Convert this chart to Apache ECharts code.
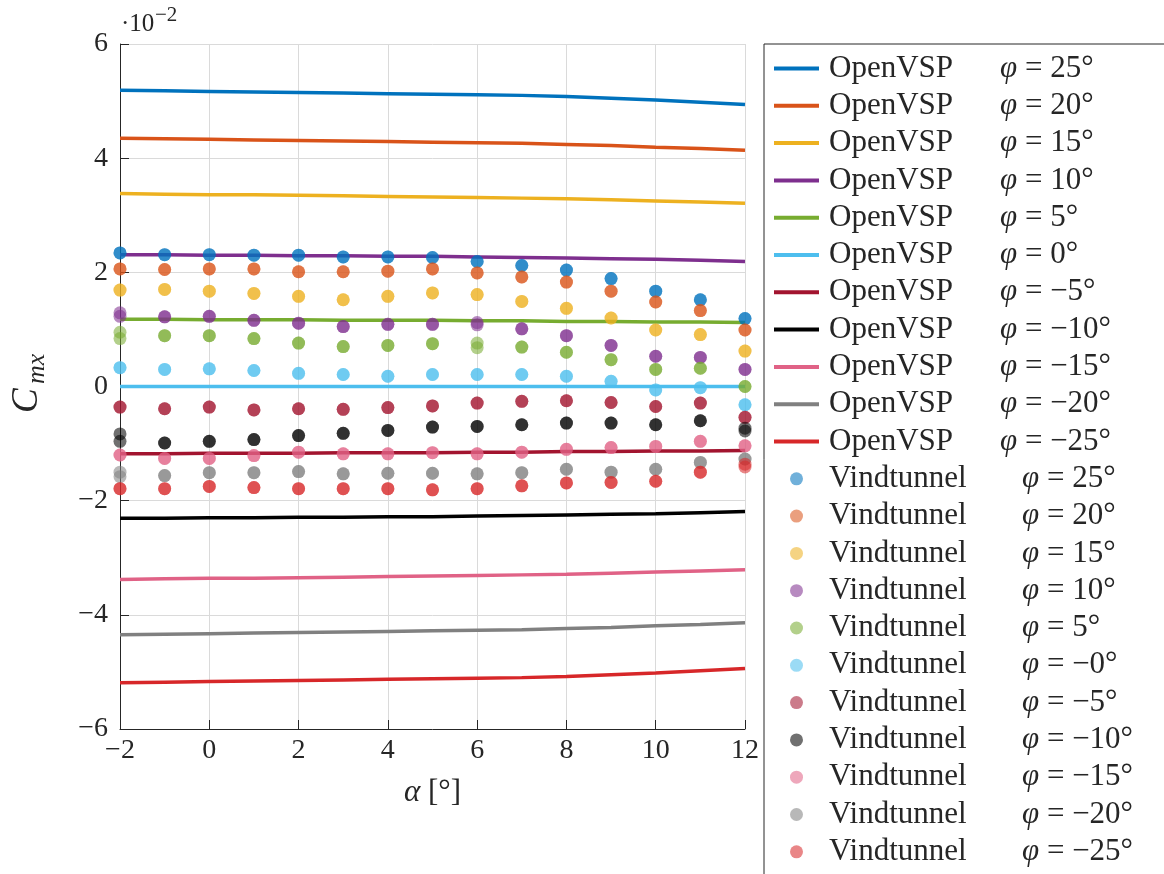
<!DOCTYPE html>
<html>
<head>
<meta charset="utf-8">
<script src="https://cdn.jsdelivr.net/npm/echarts@6/dist/echarts.min.js"></script>
<style>
  html, body { margin: 0; padding: 0; background: #ffffff; }
  #chart { width: 1164px; height: 874px; }
</style>
</head>
<body>
<div id="chart"></div>
<script>
// Angle of attack [deg]
const alpha = [-2, -1, 0, 1, 2, 3, 4, 5, 6, 7, 8, 9, 10, 11, 12];

// Roll moment coefficient Cmx (x 10^-2), OpenVSP, per sideslip angle phi
const vsp25  = [5.19, 5.18, 5.17, 5.16, 5.15, 5.14, 5.13, 5.12, 5.11, 5.10, 5.08, 5.05, 5.02, 4.98, 4.94];
const vsp20  = [4.35, 4.34, 4.33, 4.32, 4.31, 4.30, 4.29, 4.28, 4.27, 4.26, 4.24, 4.22, 4.19, 4.17, 4.14];
const vsp15  = [3.38, 3.37, 3.36, 3.36, 3.35, 3.34, 3.33, 3.32, 3.31, 3.30, 3.29, 3.27, 3.25, 3.23, 3.21];
const vsp10  = [2.31, 2.31, 2.30, 2.30, 2.29, 2.29, 2.28, 2.28, 2.27, 2.26, 2.25, 2.24, 2.23, 2.21, 2.19];
const vsp5   = [1.18, 1.18, 1.17, 1.17, 1.17, 1.16, 1.16, 1.16, 1.15, 1.15, 1.14, 1.14, 1.13, 1.13, 1.12];
const vsp0   = [0, 0, 0, 0, 0, 0, 0, 0, 0, 0, 0, 0, 0, 0, 0];
const vspM5  = [-1.18, -1.18, -1.17, -1.17, -1.17, -1.16, -1.16, -1.16, -1.15, -1.15, -1.14, -1.14, -1.13, -1.13, -1.12];
const vspM10 = [-2.31, -2.31, -2.30, -2.30, -2.29, -2.29, -2.28, -2.28, -2.27, -2.26, -2.25, -2.24, -2.23, -2.21, -2.19];
const vspM15 = [-3.38, -3.37, -3.36, -3.36, -3.35, -3.34, -3.33, -3.32, -3.31, -3.30, -3.29, -3.27, -3.25, -3.23, -3.21];
const vspM20 = [-4.35, -4.34, -4.33, -4.32, -4.31, -4.30, -4.29, -4.28, -4.27, -4.26, -4.24, -4.22, -4.19, -4.17, -4.14];
const vspM25 = [-5.19, -5.18, -5.17, -5.16, -5.15, -5.14, -5.13, -5.12, -5.11, -5.10, -5.08, -5.05, -5.02, -4.98, -4.94];

// Wind tunnel measurements, two runs per phi (x 10^-2)
const wt25a  = [2.34, 2.31, 2.31, 2.30, 2.30, 2.27, 2.27, 2.26, 2.19, 2.12, 2.04, 1.89, 1.67, 1.52, 1.19];
const wt25b  = [2.34, 2.31, 2.31, 2.30, 2.30, 2.27, 2.27, 2.26, 2.19, 2.12, 2.04, 1.89, 1.67, 1.52, 1.19];
const wt20a  = [2.06, 2.05, 2.06, 2.06, 2.01, 2.01, 2.02, 2.06, 1.99, 1.92, 1.83, 1.67, 1.48, 1.33, 0.99];
const wt20b  = [2.06, 2.05, 2.06, 2.06, 2.01, 2.01, 2.02, 2.06, 1.99, 1.92, 1.83, 1.67, 1.48, 1.33, 0.99];
const wt15a  = [1.69, 1.70, 1.67, 1.63, 1.58, 1.52, 1.58, 1.64, 1.61, 1.49, 1.37, 1.20, 0.99, 0.91, 0.62];
const wt15b  = [1.69, 1.70, 1.67, 1.63, 1.58, 1.52, 1.58, 1.64, 1.61, 1.49, 1.37, 1.20, 0.99, 0.91, 0.62];
const wt10a  = [1.29, 1.22, 1.23, 1.16, 1.11, 1.05, 1.09, 1.09, 1.12, 1.01, 0.89, 0.72, 0.53, 0.51, 0.30];
const wt10b  = [1.23, 1.22, 1.23, 1.16, 1.11, 1.05, 1.09, 1.09, 1.08, 1.01, 0.89, 0.72, 0.53, 0.51, 0.30];
const wt5a   = [0.95, 0.89, 0.89, 0.84, 0.76, 0.70, 0.72, 0.75, 0.76, 0.69, 0.60, 0.47, 0.30, 0.32, 0.00];
const wt5b   = [0.84, 0.89, 0.89, 0.84, 0.76, 0.70, 0.72, 0.75, 0.68, 0.69, 0.60, 0.47, 0.30, 0.32, 0.00];
const wt0a   = [0.33, 0.30, 0.31, 0.28, 0.23, 0.21, 0.18, 0.21, 0.21, 0.21, 0.18, 0.09, -0.06, -0.02, -0.32];
const wt0b   = [0.33, 0.30, 0.31, 0.28, 0.23, 0.21, 0.18, 0.21, 0.21, 0.21, 0.18, 0.09, -0.06, -0.02, -0.32];
const wtM5a  = [-0.36, -0.39, -0.36, -0.41, -0.39, -0.40, -0.37, -0.34, -0.29, -0.26, -0.25, -0.28, -0.35, -0.29, -0.54];
const wtM5b  = [-0.36, -0.39, -0.36, -0.41, -0.39, -0.40, -0.37, -0.34, -0.29, -0.26, -0.25, -0.28, -0.35, -0.29, -0.54];
const wtM10a = [-0.83, -0.99, -0.96, -0.93, -0.86, -0.82, -0.77, -0.71, -0.70, -0.67, -0.64, -0.64, -0.67, -0.60, -0.73];
const wtM10b = [-0.96, -0.99, -0.96, -0.93, -0.86, -0.82, -0.77, -0.71, -0.70, -0.67, -0.64, -0.64, -0.67, -0.60, -0.78];
const wtM15a = [-1.20, -1.26, -1.26, -1.21, -1.15, -1.18, -1.18, -1.16, -1.18, -1.15, -1.10, -1.07, -1.05, -0.96, -1.04];
const wtM15b = [-1.20, -1.26, -1.26, -1.21, -1.15, -1.18, -1.18, -1.16, -1.18, -1.15, -1.10, -1.07, -1.05, -0.96, -1.04];
const wtM20a = [-1.50, -1.56, -1.51, -1.51, -1.49, -1.53, -1.52, -1.52, -1.53, -1.51, -1.45, -1.50, -1.45, -1.33, -1.27];
const wtM20b = [-1.58, -1.56, -1.51, -1.51, -1.49, -1.53, -1.52, -1.52, -1.53, -1.51, -1.45, -1.50, -1.45, -1.33, -1.27];
const wtM25a = [-1.79, -1.79, -1.75, -1.77, -1.79, -1.79, -1.79, -1.81, -1.79, -1.74, -1.69, -1.68, -1.66, -1.50, -1.36];
const wtM25b = [-1.79, -1.79, -1.75, -1.77, -1.79, -1.79, -1.79, -1.81, -1.79, -1.74, -1.69, -1.68, -1.66, -1.50, -1.41];

const phiVsp = ['25°', '20°', '15°', '10°', '5°', '0°', '−5°', '−10°', '−15°', '−20°', '−25°'];
const phiWt  = ['25°', '20°', '15°', '10°', '5°', '−0°', '−5°', '−10°', '−15°', '−20°', '−25°'];

const palette = [
  [0, 114, 189], [217, 83, 25], [237, 177, 32], [126, 47, 142], [119, 172, 48],
  [77, 190, 238], [162, 20, 47], [0, 0, 0], [224, 98, 134], [128, 128, 128], [215, 39, 41]
];

const vspSets = [vsp25, vsp20, vsp15, vsp10, vsp5, vsp0, vspM5, vspM10, vspM15, vspM20, vspM25];
const wtRunsA = [wt25a, wt20a, wt15a, wt10a, wt5a, wt0a, wtM5a, wtM10a, wtM15a, wtM20a, wtM25a];
const wtRunsB = [wt25b, wt20b, wt15b, wt10b, wt5b, wt0b, wtM5b, wtM10b, wtM15b, wtM20b, wtM25b];

const FONT = '"Liberation Serif", "DejaVu Serif", serif';
const INK = '#262626';
const LINE_ICON = 'path://M0,0H45V4H0Z';
const rgb = (c, a) => a === undefined ? `rgb(${c.join(',')})` : `rgba(${c.join(',')},${a})`;
const minus = v => (v < 0 ? '\u2212' + Math.abs(v) : String(v));

const series = [];
const legendData = [];

vspSets.forEach((vals, i) => {
  const name = 'OpenVSP φ = ' + phiVsp[i];
  legendData.push({ name, icon: LINE_ICON });
  series.push({
    name, type: 'line', symbol: 'none', z: 2,
    data: alpha.map((a, k) => [a, vals[k]]),
    lineStyle: { color: rgb(palette[i]), width: 3.5 },
    itemStyle: { color: rgb(palette[i]) },
    emphasis: { disabled: true }
  });
});

wtRunsA.forEach((runA, i) => {
  const name = 'Vindtunnel φ = ' + phiWt[i];
  legendData.push({ name, icon: 'circle' });
  const runB = wtRunsB[i];
  series.push({
    name, type: 'scatter', symbol: 'circle', symbolSize: 13, z: 3,
    data: alpha.map((a, k) => [a, runA[k]]).concat(alpha.map((a, k) => [a, runB[k]])),
    itemStyle: { color: rgb(palette[i], 0.7) },
    emphasis: { disabled: true }
  });
});

const chart = echarts.init(document.getElementById('chart'), null, { renderer: 'canvas' });

chart.setOption({
  animation: false,
  backgroundColor: '#ffffff',
  textStyle: { fontFamily: FONT, color: INK },
  grid: { left: 120, top: 44, right: 419, bottom: 145, containLabel: false },
  xAxis: {
    type: 'value', min: -2, max: 12, interval: 2,
    name: '{a|α}{b| [°]}', nameLocation: 'middle', nameGap: 48,
    nameTextStyle: {
      rich: {
        a: { fontFamily: FONT, fontSize: 31, fontStyle: 'italic', color: INK },
        b: { fontFamily: FONT, fontSize: 31, color: INK }
      }
    },
    axisLine: { show: true, onZero: false, lineStyle: { color: INK, width: 1 } },
    axisTick: { show: true, inside: true, length: 9, lineStyle: { color: INK } },
    axisLabel: { fontFamily: FONT, fontSize: 28, color: INK, margin: 8, formatter: minus },
    splitLine: { show: true, lineStyle: { color: '#dadada', width: 1 } }
  },
  yAxis: {
    type: 'value', min: -6, max: 6, interval: 2,
    axisLine: { show: true, onZero: false, lineStyle: { color: INK, width: 1 } },
    axisTick: { show: true, inside: true, length: 9, lineStyle: { color: INK } },
    axisLabel: { fontFamily: FONT, fontSize: 28, color: INK, margin: 12, formatter: minus },
    splitLine: { show: true, lineStyle: { color: '#dadada', width: 1 } }
  },
  legend: {
    orient: 'vertical', left: 764, top: 44, height: 1000,
    padding: [9, 60, 40, 10],
    borderColor: INK, borderWidth: 1, borderRadius: 0, backgroundColor: '#ffffff',
    itemWidth: 45, itemHeight: 13, itemGap: 6.3,
    selectedMode: false,
    data: legendData,
    formatter: name => {
      const cut = name.indexOf(' φ');
      const head = name.slice(0, cut);
      const tail = name.slice(cut + 2);
      const key = head === 'OpenVSP' ? 'v' : 'w';
      return `{${key}|${head}}{p|φ}{r|${tail}}`;
    },
    textStyle: {
      fontFamily: FONT, fontSize: 31, color: INK,
      rich: {
        v: { fontFamily: FONT, fontSize: 31, color: INK, width: 171, lineHeight: 31, padding: [0, 0, 0, 5] },
        w: { fontFamily: FONT, fontSize: 31, color: INK, width: 193, lineHeight: 31, padding: [0, 0, 0, 5] },
        p: { fontFamily: FONT, fontSize: 31, color: INK, fontStyle: 'italic', lineHeight: 31 },
        r: { fontFamily: FONT, fontSize: 31, color: INK, lineHeight: 31 }
      }
    }
  },
  graphic: [
    {
      type: 'text', x: 121, y: 12, silent: true,
      style: { text: '·10', font: `25px ${FONT}`, fill: INK, align: 'left', verticalAlign: 'top' }
    },
    {
      type: 'text', x: 155, y: 5, silent: true,
      style: { text: '\u22122', font: `21px ${FONT}`, fill: INK, align: 'left', verticalAlign: 'top' }
    },
    {
      type: 'group', x: 27, y: 386, rotation: Math.PI / 2, silent: true,
      children: [
        { type: 'text', x: -27, y: 0, style: { text: 'C', font: `italic 37px ${FONT}`, fill: INK, align: 'left', verticalAlign: 'middle' } },
        { type: 'text', x: 2, y: 10, style: { text: 'mx', font: `italic 26px ${FONT}`, fill: INK, align: 'left', verticalAlign: 'middle' } }
      ]
    }
  ],
  series
});
</script>
</body>
</html>
